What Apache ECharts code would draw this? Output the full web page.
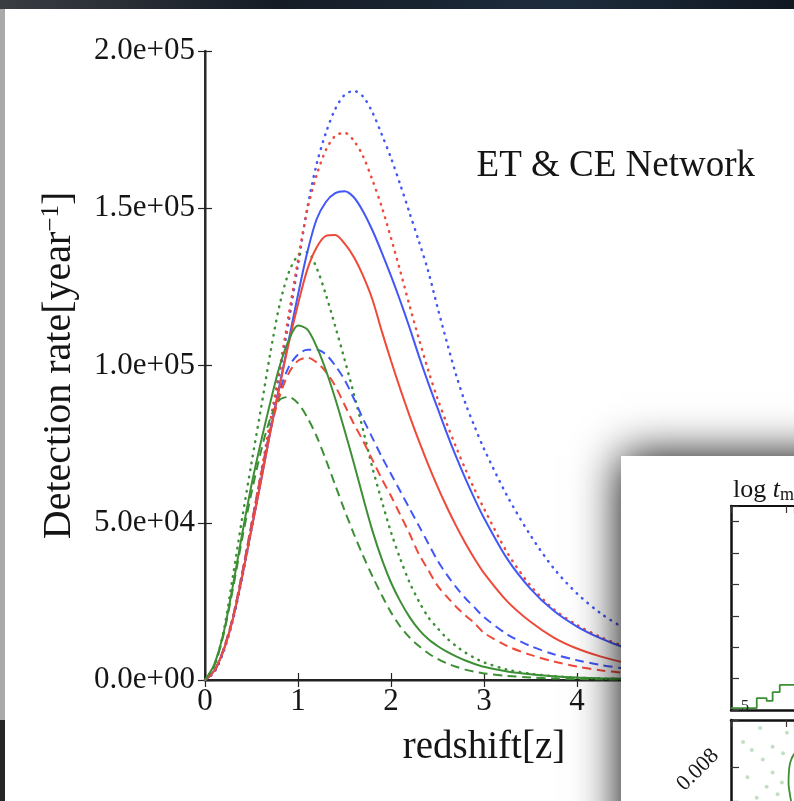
<!DOCTYPE html>
<html>
<head>
<meta charset="utf-8">
<script src="https://cdn.jsdelivr.net/npm/echarts@6/dist/echarts.min.js"></script>
<style>
  html, body { margin: 0; padding: 0; background: #ffffff; }
  #chart { width: 794px; height: 801px; }
</style>
</head>
<body>
<div id="chart"></div>
<script>
// Redshift sample points shared by every curve
const redshift = [0, 0.1, 0.2, 0.3, 0.4, 0.5, 0.6, 0.7, 0.8, 0.9,
  1.0, 1.1, 1.2, 1.3, 1.4, 1.5, 1.6, 1.7, 1.8, 1.9,
  2.0, 2.1, 2.2, 2.3, 2.4, 2.5, 2.6, 2.7, 2.8, 2.9,
  3.0, 3.25, 3.5, 3.75, 4.0, 4.25, 4.5, 4.75, 5.0, 5.5, 6.0];

// Detection rates [per year]
const blueSolid = [0, 3000, 9500, 19500, 33000, 48000, 63000, 78500, 93500, 108000,
  122500, 136000, 146500, 152000, 154800, 155400, 153500, 149000, 143000, 136000,
  128500, 120500, 112000, 103000, 94500, 86500, 78500, 71000, 64000, 57500,
  51500, 38500, 29000, 22000, 17000, 13300, 10400, 8200, 6500, 4100, 2600];
const redSolid = [0, 3000, 9500, 19500, 33000, 48000, 63000, 78500, 93000, 107000,
  119500, 130500, 137500, 141200, 141500, 138800, 134500, 128500, 121000, 111000,
  101500, 92500, 84000, 76000, 68500, 61500, 55000, 49000, 43500, 38500,
  34000, 25000, 18500, 13500, 10000, 7500, 5600, 4200, 3200, 1900, 1100];
const greenSolid = [0, 5000, 15000, 30000, 46500, 62000, 75500, 88000, 99500, 108000,
  112700, 111500, 106000, 98500, 89500, 79500, 69000, 58000, 47500, 38500,
  31000, 25000, 20000, 16000, 13000, 10800, 9000, 7500, 6200, 5100,
  4200, 2700, 1800, 1200, 800, 550, 380, 260, 180, 90, 40];
const blueDashed = [0, 2700, 9800, 20000, 34000, 49500, 65000, 79500, 91500, 99500,
  103500, 105000, 105000, 103500, 100000, 95500, 89500, 83000, 77000, 71000,
  65500, 60000, 54500, 49000, 43500, 38000, 33500, 29500, 26000, 23000,
  20000, 14500, 10800, 8200, 6300, 4800, 3700, 2900, 2300, 1400, 900];
const redDashed = [0, 2700, 9800, 20000, 34000, 49500, 65000, 79000, 90000, 97500,
  101500, 102500, 101000, 98000, 93500, 87500, 81500, 76000, 70000, 64000,
  58500, 52500, 46500, 40000, 35000, 30000, 26500, 23300, 20500, 18000,
  15000, 10800, 8000, 5900, 4300, 3100, 2300, 1700, 1300, 700, 400];
const greenDashed = [0, 4500, 14500, 29000, 45000, 59500, 72500, 83000, 89000, 90000,
  88000, 83500, 77500, 70000, 62000, 54000, 46500, 39500, 33000, 27000,
  21500, 17000, 13500, 10800, 8500, 6700, 5300, 4200, 3300, 2600,
  2100, 1300, 800, 500, 320, 200, 130, 80, 50, 20, 10];
const blueDotted = [0, 2500, 9000, 19000, 32500, 48000, 64000, 80500, 97000, 114000,
  132000, 150000, 164000, 174000, 181500, 186000, 187300, 185500, 180500, 173500,
  166000, 157500, 148500, 139500, 130000, 118500, 107500, 97000, 88000, 80500,
  73500, 58500, 46000, 35500, 27500, 21300, 16600, 13000, 10200, 6300, 3900];
const redDotted = [0, 2700, 9800, 20000, 34000, 49500, 65500, 82000, 98500, 116000,
  133500, 149500, 160500, 168500, 173000, 174000, 171500, 166500, 159000, 150500,
  140500, 130000, 119000, 108500, 98500, 89500, 81500, 74000, 67000, 60500,
  54500, 40500, 30000, 22500, 17500, 13700, 10800, 8500, 6700, 4200, 2700];
const greenDotted = [0, 4500, 15500, 33000, 51500, 69000, 86000, 103500, 119000, 129500,
  135000, 136000, 131000, 122500, 112500, 102000, 91000, 79500, 67500, 57000,
  47000, 38500, 31000, 25000, 20000, 16500, 13300, 10800, 8700, 7000,
  5600, 3300, 2000, 1200, 750, 480, 310, 200, 130, 55, 25];

// Axis ticks
const xTicks = [0, 1, 2, 3, 4, 5, 6];
const yTicks = [0, 50000, 100000, 150000, 200000];

// Small side window: histogram of log t_merge and a corner of the scatter panel
const histEdges = [0, 0.47, 0.65, 0.76, 0.89, 1.2];
const histCounts = [0.06, 0.38, 0.29, 0.57, 0.8, 0.8];
const scatterX = [0.22, 0.38, 0.58, 0.76, 0.93, 0.65, 0.47, 1.02, 0.76, 0.53, 0.85, 0.30, 0.95];
const scatterY = [0.46, 0.63, 0.83, 1.10, 1.31, 1.40, 1.63, 0.27, 0.56, 0.17, 1.56, 1.20, 0.70];
const contourX = [1.16, 1.09, 1.06, 1.05, 1.07, 1.10];
const contourY = [0.70, 0.86, 1.05, 1.30, 1.52, 1.72];

const BLUE = '#4257f7';
const RED = '#ef4939';
const GREEN = '#3d8f35';
const SERIF = '"Liberation Serif", "Times New Roman", "DejaVu Serif", serif';

function sci(v) {
  if (v === 0) return '0.0e+00';
  const e = Math.floor(Math.log10(Math.abs(v)) + 1e-9);
  const m = v / Math.pow(10, e);
  return m.toFixed(1) + 'e' + (e < 0 ? '-' : '+') + String(Math.abs(e)).padStart(2, '0');
}

const SOLID = { type: 'solid', cap: 'butt', width: 2 };
const DASHED = { type: [9, 5.5], cap: 'butt', width: 2 };
const DOTTED = { type: [0.6, 6.6], cap: 'round', width: 2.5 };

const curves = [
  { values: blueDotted, color: BLUE, style: DOTTED },
  { values: redDotted, color: RED, style: DOTTED },
  { values: greenDotted, color: GREEN, style: DOTTED },
  { values: blueDashed, color: BLUE, style: DASHED },
  { values: redDashed, color: RED, style: DASHED },
  { values: greenDashed, color: GREEN, style: DASHED },
  { values: blueSolid, color: BLUE, style: SOLID },
  { values: redSolid, color: RED, style: SOLID },
  { values: greenSolid, color: GREEN, style: SOLID }
];

const chart = echarts.init(document.getElementById('chart'), null, { renderer: 'canvas' });

const tickStyle = { inside: true, length: 7, lineStyle: { color: '#222', width: 1.2 } };

const mainSeries = curves.map(c => ({
  type: 'line',
  xAxisIndex: 0,
  yAxisIndex: 0,
  data: redshift.map((z, i) => [z, c.values[i]]),
  showSymbol: false,
  smooth: 0.3,
  lineStyle: { color: c.color, width: c.style.width, type: c.style.type, cap: c.style.cap },
  z: 3,
  silent: true
}));

const insetSeries = [
  {
    type: 'line',
    xAxisIndex: 2,
    yAxisIndex: 2,
    step: 'end',
    data: histEdges.map((x, i) => [x, histCounts[i]]),
    showSymbol: false,
    lineStyle: { color: GREEN, width: 1.8 },
    z: 62,
    silent: true
  },
  {
    type: 'scatter',
    xAxisIndex: 4,
    yAxisIndex: 3,
    data: scatterX.map((x, i) => [x, scatterY[i]]),
    symbolSize: 4,
    itemStyle: { color: 'rgba(90,165,90,0.45)' },
    z: 62,
    silent: true
  },
  {
    type: 'line',
    xAxisIndex: 4,
    yAxisIndex: 3,
    data: contourX.map((x, i) => [x, contourY[i]]),
    showSymbol: false,
    smooth: 0.5,
    lineStyle: { color: GREEN, width: 1.8 },
    z: 62,
    silent: true
  }
];

const option = {
  animation: false,
  backgroundColor: '#ffffff',
  grid: [
    { left: 205, top: 51, width: 558, height: 629, outerBoundsMode: 'none' },
    { left: 731, top: 506, width: 63, height: 204, outerBoundsMode: 'none' },
    { left: 731, top: 720, width: 63, height: 81, outerBoundsMode: 'none' }
  ],
  xAxis: [
    {
      gridIndex: 0, type: 'value', position: 'bottom',
      min: xTicks[0], max: xTicks[xTicks.length - 1], interval: 1,
      axisLine: { lineStyle: { color: '#6a6a6a', width: 2.5 } },
      axisTick: tickStyle,
      axisLabel: { fontFamily: SERIF, fontSize: 31, color: '#151515', margin: 6 },
      splitLine: { show: false },
      name: 'redshift[z]', nameLocation: 'middle', nameGap: 48,
      nameTextStyle: { fontFamily: SERIF, fontSize: 39, color: '#151515' }
    },
    {
      gridIndex: 0, type: 'value', position: 'top',
      min: xTicks[0], max: xTicks[xTicks.length - 1], interval: 1,
      axisLine: { lineStyle: { color: '#222', width: 1.8 } },
      axisTick: tickStyle,
      axisLabel: { show: false },
      splitLine: { show: false }
    },
    {
      gridIndex: 1, type: 'value', position: 'bottom', min: 0, max: 1.15, interval: 1,
      axisLine: { lineStyle: { color: '#111', width: 2.5 } },
      axisTick: { show: false }, axisLabel: { show: false }, splitLine: { show: false }, z: 61
    },
    {
      gridIndex: 1, type: 'value', position: 'top', min: 0, max: 1.15, interval: 1,
      axisLine: { lineStyle: { color: '#111', width: 2.2 } },
      axisTick: { inside: true, length: 7, lineStyle: { color: '#333', width: 1.2 } },
      axisLabel: { show: false }, splitLine: { show: false }, z: 61
    },
    {
      gridIndex: 2, type: 'value', position: 'top', min: 0, max: 1.15, interval: 1,
      axisLine: { lineStyle: { color: '#111', width: 2.5 } },
      axisTick: { inside: true, length: 7, lineStyle: { color: '#333', width: 1.2 } },
      axisLabel: { show: false }, splitLine: { show: false }, z: 61
    }
  ],
  yAxis: [
    {
      gridIndex: 0, type: 'value', position: 'left',
      min: yTicks[0], max: yTicks[yTicks.length - 1], interval: 50000,
      axisLine: { show: true, lineStyle: { color: '#6a6a6a', width: 2.5 } },
      axisTick: { show: true, ...tickStyle },
      axisLabel: { fontFamily: SERIF, fontSize: 31, color: '#151515', margin: 10, formatter: sci },
      splitLine: { show: false },
      name: 'Detection rate[year{sup|\u22121}]', nameLocation: 'middle', nameGap: 126,
      nameTextStyle: {
        fontFamily: SERIF, fontSize: 40, color: '#151515',
        rich: { sup: { fontFamily: SERIF, fontSize: 25, color: '#151515', verticalAlign: 'top', padding: [0, 0, 14, 0] } }
      }
    },
    {
      gridIndex: 0, type: 'value', position: 'right',
      min: yTicks[0], max: yTicks[yTicks.length - 1], interval: 50000,
      axisLine: { show: true, lineStyle: { color: '#222', width: 1.8 } },
      axisTick: { show: true, ...tickStyle },
      axisLabel: { show: false },
      splitLine: { show: false }
    },
    {
      gridIndex: 1, type: 'value', position: 'left', min: 0, max: 6.5, interval: 1,
      axisLine: { show: true, lineStyle: { color: '#111', width: 2.5 } },
      axisTick: { show: true, inside: true, length: 8, lineStyle: { color: '#333', width: 1.2 } },
      axisLabel: { show: false }, splitLine: { show: false }, z: 61
    },
    {
      gridIndex: 2, type: 'value', position: 'left', inverse: true, min: 0, max: 1.7, interval: 1,
      axisLine: { show: true, lineStyle: { color: '#111', width: 2.5 } },
      axisTick: { show: true, inside: true, length: 8, lineStyle: { color: '#333', width: 1.2 } },
      axisLabel: { show: false }, splitLine: { show: false }, z: 61
    }
  ],
  graphic: [
    // dark desktop strip along the top edge
    {
      type: 'rect', left: 0, top: 0, z: 1,
      shape: { width: 794, height: 9 },
      style: {
        fill: {
          type: 'linear', x: 0, y: 0, x2: 1, y2: 0,
          colorStops: [
            { offset: 0, color: '#3a3d42' },
            { offset: 0.35, color: '#151c26' },
            { offset: 0.7, color: '#1d2c3c' },
            { offset: 1, color: '#101822' }
          ]
        }
      }
    },
    { type: 'rect', left: 0, top: 9, z: 1, shape: { width: 5, height: 711 }, style: { fill: '#a9a9a9' } },
    { type: 'rect', left: 0, top: 720, z: 1, shape: { width: 5, height: 81 }, style: { fill: '#262626' } },
    {
      type: 'text', z: 10,
      style: {
        x: 755, y: 166, text: 'ET & CE Network', align: 'right', verticalAlign: 'middle',
        font: '37px ' + SERIF, fill: '#151515'
      }
    },
    // foreground window with its drop shadow
    {
      type: 'rect', z: 50,
      shape: { x: 621, y: 456, width: 260, height: 420 },
      style: { fill: '#ffffff', shadowBlur: 44, shadowColor: 'rgba(0,0,0,1)' }
    },
    {
      type: 'text', z: 62,
      style: {
        x: 733, y: 490, verticalAlign: 'middle', align: 'left',
        text: 'log {it|t}{sub|m}',
        font: '26px ' + SERIF, fill: '#151515',
        rich: {
          it: { font: 'italic 26px ' + SERIF, fill: '#151515' },
          sub: { font: '18px ' + SERIF, fill: '#151515', padding: [10, 0, 0, 0] }
        }
      }
    },
    {
      type: 'text', z: 63,
      style: { x: 741, y: 707, text: '5', align: 'left', verticalAlign: 'middle', font: '16px ' + SERIF, fill: '#222' }
    },
    {
      type: 'text', z: 62, x: 698, y: 770, rotation: Math.PI / 4,
      style: { x: 0, y: 0, text: '0.008', align: 'center', verticalAlign: 'middle', font: '22px ' + SERIF, fill: '#151515' }
    }
  ],
  series: mainSeries.concat(insetSeries)
};

chart.setOption(option);
</script>
</body>
</html>
